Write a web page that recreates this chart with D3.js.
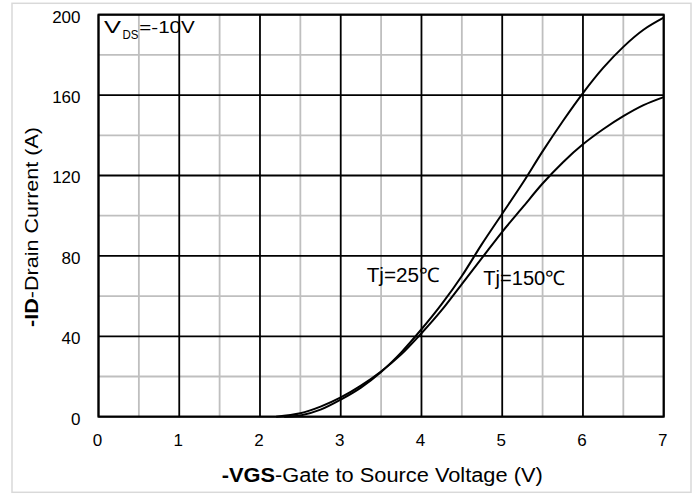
<!DOCTYPE html>
<html>
<head>
<meta charset="utf-8">
<script src="https://cdn.jsdelivr.net/npm/d3@7"></script>
<style>
  html, body { margin: 0; padding: 0; background: #fff; }
  svg { display: block; font-family: "Liberation Sans", Arial, sans-serif; }
</style>
</head>
<body>
<svg id="chart" width="697" height="495"></svg>
<script>
// ---- data ----
const xTicks = [0, 1, 2, 3, 4, 5, 6, 7];
const yTicks = [0, 40, 80, 120, 160, 200];
const xMinor = [0.5, 1.5, 2.5, 3.5, 4.5, 5.5, 6.5];
const yMinor = [20, 60, 100, 140, 180];

const vgs25 = [2.3, 2.5, 2.75, 3.0, 3.25, 3.5, 3.75, 4.0, 4.25, 4.5, 4.75, 5.0, 5.25, 5.5, 5.75, 6.0, 6.25, 6.5, 6.75, 7.0];
const id25  = [0, 0.6, 3.5, 8.5, 14.5, 22.3, 32, 43.5, 56, 70, 86, 101, 116, 132, 147, 161, 173.5, 184, 192.5, 198.5];

const vgs150 = [2.2, 2.5, 2.75, 3.0, 3.25, 3.5, 3.75, 4.0, 4.25, 4.5, 4.75, 5.0, 5.25, 5.5, 5.75, 6.0, 6.25, 6.5, 6.75, 7.0];
const id150  = [0, 1.7, 5, 9.6, 15.5, 22.5, 31, 41.5, 53, 66, 79, 92, 104, 116, 126.5, 135.5, 143, 149.5, 155, 159];

const seriesLabels = ["Tj=25℃", "Tj=150℃"];

// ---- layout ----
const svg = d3.select("#chart");
const L = 98.5, T = 14.7, R = 663.7, B = 416.7;
const x = d3.scaleLinear().domain([0, 7]).range([L, R]);
const y = d3.scaleLinear().domain([0, 200]).range([B, T]);

// outer frame
svg.append("rect").attr("x", 12).attr("y", 3.3).attr("width", 679).attr("height", 489)
  .attr("fill", "#fff").attr("stroke", "#d9d9d9").attr("stroke-width", 1.5);

// minor grid
const g = svg.append("g");
g.selectAll(".vminor").data(xMinor).join("line")
  .attr("x1", d => x(d)).attr("x2", d => x(d)).attr("y1", T).attr("y2", B)
  .attr("stroke", "#bfbfbf").attr("stroke-width", 1.8);
g.selectAll(".hminor").data(yMinor).join("line")
  .attr("x1", L).attr("x2", R).attr("y1", d => y(d)).attr("y2", d => y(d))
  .attr("stroke", "#bfbfbf").attr("stroke-width", 1.8);
// major grid
g.selectAll(".vmajor").data(xTicks).join("line")
  .attr("x1", d => x(d)).attr("x2", d => x(d)).attr("y1", T).attr("y2", B)
  .attr("stroke", "#000").attr("stroke-width", 1.8);
g.selectAll(".hmajor").data(yTicks).join("line")
  .attr("x1", L).attr("x2", R).attr("y1", d => y(d)).attr("y2", d => y(d))
  .attr("stroke", "#000").attr("stroke-width", 1.8);
svg.append("rect").attr("x", L).attr("y", T).attr("width", R - L).attr("height", B - T)
  .attr("fill", "none").attr("stroke", "#000").attr("stroke-width", 2);

// axes (labels only)
const xAxis = svg.append("g").attr("transform", `translate(-1.5,${B})`)
  .call(d3.axisBottom(x).tickValues(xTicks).tickSize(0).tickPadding(17).tickFormat(d3.format("d")));
xAxis.select(".domain").remove();
xAxis.selectAll("text").attr("font-size", 17).attr("fill", "#000")
  .attr("font-family", "'Liberation Sans', Arial, sans-serif");

const yAxis = svg.append("g").attr("transform", `translate(${L},0)`)
  .call(d3.axisLeft(y).tickValues(yTicks).tickSize(0).tickPadding(18).tickFormat(d3.format("d")));
yAxis.select(".domain").remove();
yAxis.selectAll("text").attr("font-size", 17).attr("fill", "#000").attr("dy", "0.43em")
  .attr("font-family", "'Liberation Sans', Arial, sans-serif");

// curves
const line = d3.line().x(d => x(d[0])).y(d => y(d[1])).curve(d3.curveCatmullRom.alpha(0.5));
const s25 = vgs25.map((v, i) => [v, id25[i]]);
const s150 = vgs150.map((v, i) => [v, id150[i]]);
[s25, s150].forEach(s => {
  svg.append("path").datum(s).attr("d", line)
    .attr("fill", "none").attr("stroke", "#000").attr("stroke-width", 2);
});

// series labels
svg.append("text").attr("x", 366.7).attr("y", 281.5).attr("font-size", 20)
  .attr("textLength", 73).attr("lengthAdjust", "spacingAndGlyphs").text(seriesLabels[0]);
svg.append("text").attr("x", 483.3).attr("y", 284.5).attr("font-size", 20)
  .attr("textLength", 82).attr("lengthAdjust", "spacingAndGlyphs").text(seriesLabels[1]);

// VDS annotation
const vds = svg.append("text").attr("y", 33).attr("font-size", 17);
vds.append("tspan").attr("x", 104).attr("textLength", 17).attr("lengthAdjust", "spacingAndGlyphs").text("V");
vds.append("tspan").attr("x", 122.5).attr("y", 39).attr("font-size", 12.5)
  .attr("textLength", 16).attr("lengthAdjust", "spacingAndGlyphs").text("DS");
vds.append("tspan").attr("x", 139.3).attr("y", 33)
  .attr("textLength", 55.5).attr("lengthAdjust", "spacingAndGlyphs").text("=-10V");

// x title
const xt = svg.append("text").attr("x", 221.7).attr("y", 482.3).attr("font-size", 20)
  .attr("textLength", 321).attr("lengthAdjust", "spacingAndGlyphs");
xt.append("tspan").attr("font-weight", "bold").text("-VGS");
xt.append("tspan").text("-Gate to Source Voltage (V)");

// y title
const yt = svg.append("text").attr("transform", "translate(38.3,327) rotate(-90)")
  .attr("x", 0).attr("y", 0).attr("font-size", 18)
  .attr("textLength", 200).attr("lengthAdjust", "spacingAndGlyphs");
yt.append("tspan").attr("font-weight", "bold").text("-ID");
yt.append("tspan").text("-Drain Current (A)");
</script>
</body>
</html>
